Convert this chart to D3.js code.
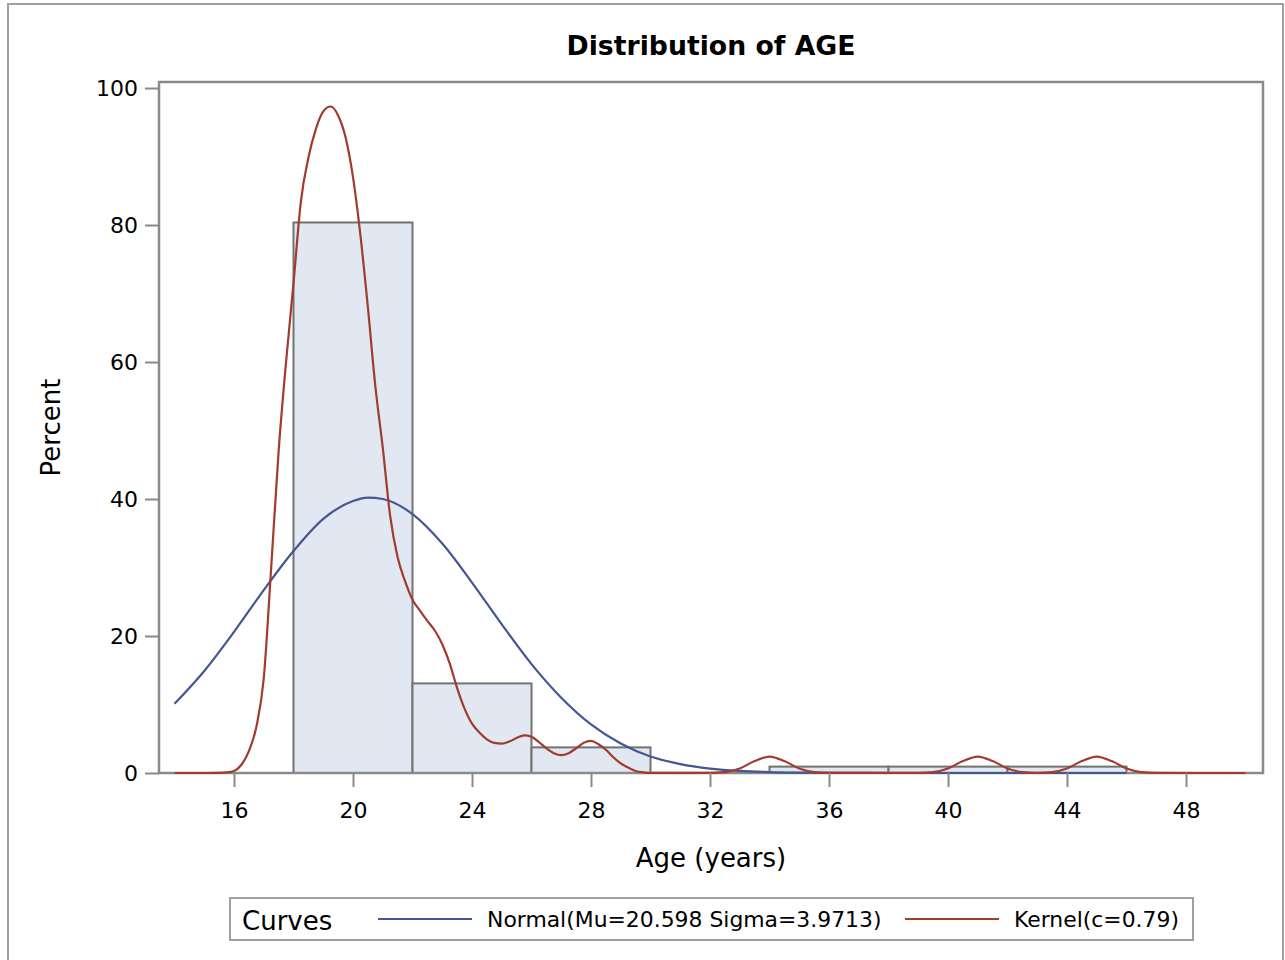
<!DOCTYPE html>
<meta charset="utf-8">
<style>
    body { margin: 0; background: #fff; }
    text { font-family: "DejaVu Sans", sans-serif; fill: #000; }
    .axis path.domain { display: none; }
    .axis line { stroke: #8a8a8a; stroke-width: 2px; }
    .axis text { font-size: 22px; }
    .bar { fill: #e1e8f1; stroke: #727272; stroke-width: 2px; }
</style>
<body>
<script src="https://cdn.jsdelivr.net/npm/d3@7"></script>
<script>
    // histogram bins (lower edge, years) and percent of obs
    var binStart = [18, 22, 26, 30, 34, 38, 42];
    var binPct = [80.37, 13.08, 3.74, 0, 0.93, 0.93, 0.93];
    var binWidth = 4;

    // normal curve
    var normalX = [14, 15, 16, 17, 18, 19, 20, 20.5, 21, 22, 23, 24, 25, 26, 27, 28, 29, 30, 31, 32, 33, 34, 35, 36, 37, 38, 46];
    var normalY = [10.1, 14.9, 20.6, 26.7, 32.4, 37.1, 39.7, 40.2, 40.0, 37.8, 33.5, 27.8, 21.7, 15.9, 11.0, 7.1, 4.3, 2.4, 1.3, 0.65, 0.31, 0.14, 0.06, 0.02, 0.01, 0, 0];

    // kernel density curve
    var kernelX = [14, 15, 15.5, 15.75, 16, 16.25, 16.5, 16.75, 17, 17.25, 17.5, 17.75, 18, 18.25, 18.5, 18.75,
        19, 19.25, 19.5, 19.75, 20, 20.25, 20.5, 20.75, 21, 21.25, 21.5, 21.75, 22, 22.25, 22.5, 22.75,
        23, 23.25, 23.5, 23.75, 24, 24.25, 24.5, 24.75, 25, 25.25, 25.5, 25.75, 26, 26.25, 26.5, 26.75,
        27, 27.25, 27.5, 27.75, 28, 28.25, 28.5, 28.75, 29, 29.25, 29.5, 29.75, 30, 32,
        32.5, 33, 33.5, 34, 34.5, 35, 35.5, 36, 39, 39.5, 40, 40.5, 41, 41.5, 42, 42.5, 43,
        43.5, 44, 44.5, 45, 45.5, 46, 46.5, 47, 50];
    var kernelY = [0, 0, 0.02, 0.08, 0.3, 1.2, 3.2, 6.7, 13.8, 30, 47, 60, 71.5, 83.5, 89.8, 94,
        96.6, 97.3, 96, 92.8, 87, 78.5, 68, 56.5, 47.5, 37.5, 31.5, 28, 25.3, 23.7, 22.2, 20.8,
        18.8, 16, 12.4, 9.4, 7.2, 5.9, 4.9, 4.4, 4.3, 4.6, 5.1, 5.5, 5.3, 4.5, 3.6, 2.9,
        2.6, 2.9, 3.6, 4.4, 4.7, 4.2, 3.4, 2.3, 1.4, 0.8, 0.3, 0.1, 0.02, 0.01,
        0.13, 0.66, 1.74, 2.4, 1.74, 0.66, 0.13, 0.01, 0.01, 0.13, 0.66, 1.74, 2.4, 1.74, 0.66, 0.13, 0.02,
        0.13, 0.66, 1.74, 2.4, 1.74, 0.66, 0.13, 0.01, 0];

    var xTicks = [16, 20, 24, 28, 32, 36, 40, 44, 48];
    var yTicks = [0, 20, 40, 60, 80, 100];

    var W = 1285, H = 960;
    var plot = {left: 159, right: 1263, top: 82, bottom: 773};

    var svg = d3.select("body").append("svg")
        .attr("width", W)
        .attr("height", H);

    // outer border
    svg.append("rect")
        .attr("x", 8).attr("y", 4)
        .attr("width", 1275).attr("height", 1000)
        .style("fill", "none").style("stroke", "#a0a0a0").style("stroke-width", 2);

    var x = d3.scaleLinear().domain([13.479, 50.588]).range([plot.left, plot.right]);
    var y = d3.scaleLinear().domain([0, 100.88]).range([plot.bottom, plot.top]);

    svg.append("text")
        .attr("x", (plot.left + plot.right) / 2)
        .attr("y", 55)
        .attr("text-anchor", "middle")
        .style("font-size", "26.7px")
        .style("font-weight", "bold")
        .text("Distribution of AGE");

    // bars
    var bins = binStart.map(function(d, i) { return {x0: d, x1: d + binWidth, pct: binPct[i]}; })
        .filter(function(d) { return d.pct > 0; });

    svg.selectAll(".bar")
        .data(bins)
        .enter().append("rect")
        .attr("class", "bar")
        .attr("x", function(d) { return x(d.x0); })
        .attr("y", function(d) { return y(d.pct); })
        .attr("width", function(d) { return x(d.x1) - x(d.x0); })
        .attr("height", function(d) { return y(0) - y(d.pct); });

    // frame
    svg.append("rect")
        .attr("x", plot.left).attr("y", plot.top)
        .attr("width", plot.right - plot.left).attr("height", plot.bottom - plot.top)
        .style("fill", "none").style("stroke", "#8a8a8a").style("stroke-width", 2.5);

    var line = d3.line()
        .x(function(d) { return x(d[0]); })
        .y(function(d) { return y(d[1]); })
        .curve(d3.curveMonotoneX);

    svg.append("path")
        .datum(d3.zip(normalX, normalY))
        .attr("d", line)
        .style("fill", "none").style("stroke", "#445694").style("stroke-width", 2.2);

    svg.append("path")
        .datum(d3.zip(kernelX, kernelY))
        .attr("d", line)
        .style("fill", "none").style("stroke", "#a23a2e").style("stroke-width", 2.2);

    // axes
    svg.append("g")
        .attr("class", "x axis")
        .attr("transform", "translate(0," + plot.bottom + ")")
        .call(d3.axisBottom(x).tickValues(xTicks).tickSize(14).tickPadding(15));

    svg.append("g")
        .attr("class", "y axis")
        .attr("transform", "translate(" + plot.left + ",0)")
        .call(d3.axisLeft(y).tickValues(yTicks).tickSize(14).tickPadding(7));

    svg.append("text")
        .attr("x", (plot.left + plot.right) / 2)
        .attr("y", 867)
        .attr("text-anchor", "middle")
        .style("font-size", "26px")
        .text("Age (years)");

    svg.append("text")
        .attr("transform", "translate(60," + (plot.top + plot.bottom) / 2 + ") rotate(-90)")
        .attr("text-anchor", "middle")
        .style("font-size", "26px")
        .text("Percent");

    // legend
    var legend = svg.append("g");
    legend.append("rect")
        .attr("x", 230).attr("y", 898)
        .attr("width", 963).attr("height", 42)
        .style("fill", "#fff").style("stroke", "#a0a0a0").style("stroke-width", 2);
    legend.append("text")
        .attr("x", 242).attr("y", 930)
        .style("font-size", "26px")
        .text("Curves");

    var items = [
        {label: "Normal(Mu=20.598 Sigma=3.9713)", color: "#445694", x0: 378},
        {label: "Kernel(c=0.79)", color: "#a23a2e", x0: 905}
    ];
    items.forEach(function(it) {
        legend.append("line")
            .attr("x1", it.x0).attr("x2", it.x0 + 94)
            .attr("y1", 919).attr("y2", 919)
            .style("stroke", it.color).style("stroke-width", 2.2);
        legend.append("text")
            .attr("x", it.x0 + 109).attr("y", 927)
            .style("font-size", "21.9px")
            .text(it.label);
    });
</script>
